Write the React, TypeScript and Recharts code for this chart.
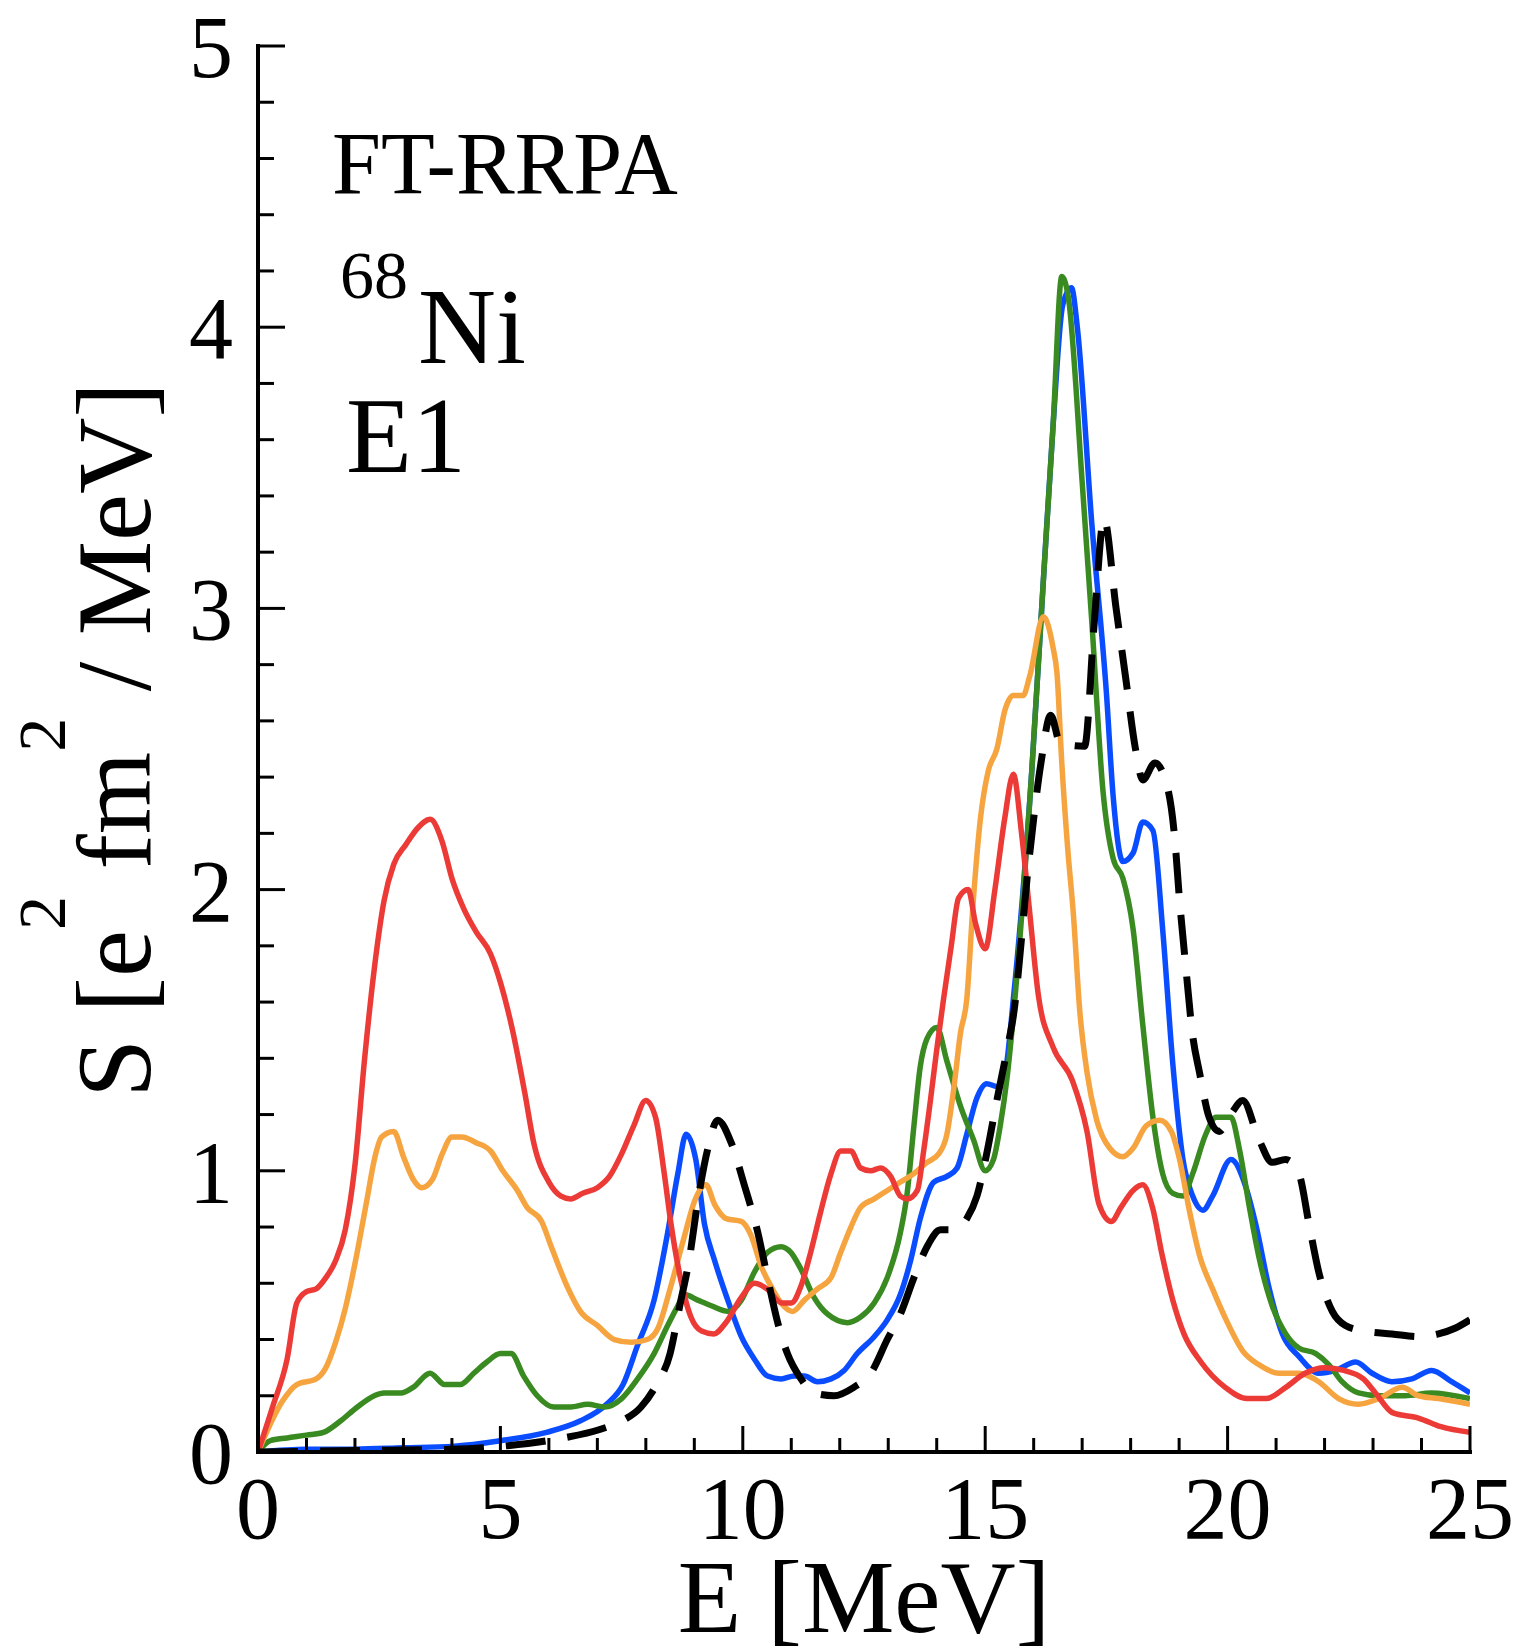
import React from 'react';
import { LineChart, Line, XAxis, YAxis } from 'recharts';

const W = 1516;
const H = 1652;
const FONT = '"Liberation Serif", "Times New Roman", serif';

// ---- data (E in MeV, S in e^2 fm^2 / MeV) ----
const redE = [0, 0.3, 0.6, 0.8, 1.0, 1.2, 1.4, 1.6, 1.8, 2.0, 2.2, 2.4, 2.6, 2.8, 3.05, 3.3, 3.55, 3.8, 4.0, 4.25, 4.5, 4.8, 5.0, 5.25, 5.5, 5.7, 6.0, 6.25, 6.45, 6.7, 7.0, 7.25, 7.5, 7.75, 8.0, 8.2, 8.38, 8.52, 8.7, 8.93, 9.15, 9.4, 9.65, 9.97, 10.24, 10.5, 10.8, 11.0, 11.2, 11.4, 11.6, 11.82, 12.02, 12.23, 12.43, 12.64, 12.84, 13.05, 13.25, 13.4, 13.6, 13.73, 13.87, 14.0, 14.14, 14.3, 14.45, 14.65, 14.8, 15.0, 15.2, 15.4, 15.58, 15.75, 15.9, 16.1, 16.4, 16.8, 17.1, 17.35, 17.6, 17.8, 18.05, 18.25, 18.45, 18.65, 18.87, 19.1, 19.45, 19.95, 20.4, 20.8, 21.2, 21.6, 22.0, 22.4, 22.8, 23.05, 23.4, 23.95, 24.4, 25];
const redS = [0, 0.16, 0.33, 0.53, 0.57, 0.58, 0.62, 0.68, 0.79, 1.02, 1.4, 1.72, 1.96, 2.09, 2.16, 2.22, 2.25, 2.17, 2.04, 1.93, 1.85, 1.77, 1.67, 1.5, 1.28, 1.09, 0.96, 0.91, 0.9, 0.92, 0.94, 0.98, 1.06, 1.16, 1.25, 1.19, 0.99, 0.81, 0.63, 0.48, 0.43, 0.42, 0.46, 0.55, 0.6, 0.58, 0.53, 0.53, 0.59, 0.71, 0.85, 0.99, 1.07, 1.07, 1.01, 1.0, 1.01, 0.98, 0.91, 0.9, 0.93, 1.07, 1.25, 1.43, 1.61, 1.8, 1.97, 2.0, 1.88, 1.79, 2.0, 2.25, 2.41, 2.2, 1.95, 1.62, 1.44, 1.32, 1.14, 0.88, 0.82, 0.87, 0.93, 0.95, 0.87, 0.7, 0.54, 0.42, 0.32, 0.23, 0.19, 0.19, 0.23, 0.28, 0.3, 0.29, 0.26, 0.21, 0.14, 0.12, 0.09, 0.07];

const orangeE = [0, 0.5, 0.8, 1.2, 1.4, 1.6, 1.8, 2.0, 2.25, 2.4, 2.55, 2.8, 3.0, 3.2, 3.38, 3.6, 3.8, 4.0, 4.2, 4.5, 4.8, 5.05, 5.35, 5.55, 5.85, 6.05, 6.4, 6.65, 7.0, 7.35, 7.7, 8.03, 8.25, 8.5, 8.8, 9.0, 9.24, 9.42, 9.66, 9.97, 10.17, 10.38, 10.58, 10.79, 11.03, 11.27, 11.54, 11.82, 12.02, 12.23, 12.43, 12.71, 12.98, 13.25, 13.53, 13.8, 14.04, 14.21, 14.35, 14.49, 14.62, 14.75, 14.9, 15.06, 15.24, 15.41, 15.58, 15.78, 15.92, 16.2, 16.4, 16.48, 16.58, 16.7, 16.82, 16.95, 17.1, 17.3, 17.57, 17.84, 18.05, 18.32, 18.6, 18.84, 19.01, 19.21, 19.42, 19.69, 19.97, 20.31, 20.65, 21.06, 21.47, 21.88, 22.29, 22.7, 23.12, 23.6, 23.94, 24.35, 25];
const orangeS = [0, 0.18, 0.24, 0.26, 0.3, 0.39, 0.51, 0.67, 0.9, 1.04, 1.12, 1.14, 1.05, 0.97, 0.94, 0.97, 1.06, 1.12, 1.12, 1.1, 1.07, 1.0, 0.93, 0.87, 0.82, 0.73, 0.58, 0.5, 0.45, 0.4, 0.39, 0.4, 0.44, 0.58, 0.77, 0.89, 0.95, 0.88, 0.83, 0.82, 0.77, 0.66, 0.59, 0.53, 0.5, 0.54, 0.58, 0.62, 0.71, 0.8, 0.87, 0.9, 0.93, 0.96, 0.99, 1.03, 1.06, 1.13, 1.29, 1.49, 1.61, 1.95, 2.25, 2.42, 2.5, 2.64, 2.69, 2.69, 2.76, 2.97, 2.86, 2.77, 2.45, 2.15, 1.91, 1.57, 1.35, 1.18, 1.08, 1.05, 1.08, 1.16, 1.18, 1.14, 1.04, 0.86, 0.7, 0.58, 0.47, 0.36, 0.31, 0.28, 0.28, 0.25, 0.19, 0.17, 0.19, 0.23, 0.2, 0.19, 0.17];

const greenE = [0, 0.25, 0.6, 1.0, 1.35, 1.7, 2.05, 2.4, 2.6, 2.95, 3.2, 3.55, 3.85, 4.17, 4.45, 4.72, 5.0, 5.22, 5.48, 5.76, 6.1, 6.45, 6.8, 7.15, 7.5, 7.83, 8.17, 8.45, 8.66, 8.8, 9.07, 9.35, 9.7, 9.97, 10.24, 10.51, 10.79, 10.99, 11.2, 11.47, 11.75, 12.16, 12.43, 12.71, 12.98, 13.25, 13.39, 13.53, 13.66, 13.8, 14.0, 14.21, 14.49, 14.76, 15.0, 15.17, 15.31, 15.45, 15.58, 15.96, 16.2, 16.4, 16.58, 16.72, 17.0, 17.2, 17.43, 17.64, 17.84, 18.05, 18.25, 18.46, 18.66, 18.87, 19.08, 19.28, 19.55, 19.76, 20.07, 20.24, 20.45, 20.65, 20.92, 21.2, 21.47, 21.82, 22.09, 22.36, 22.7, 23.12, 23.66, 24.2, 25];
const greenS = [0, 0.04, 0.05, 0.06, 0.07, 0.11, 0.16, 0.2, 0.21, 0.21, 0.23, 0.28, 0.24, 0.24, 0.28, 0.32, 0.35, 0.35, 0.27, 0.2, 0.16, 0.16, 0.17, 0.16, 0.19, 0.26, 0.35, 0.45, 0.52, 0.56, 0.54, 0.52, 0.5, 0.54, 0.64, 0.71, 0.73, 0.71, 0.65, 0.55, 0.49, 0.46, 0.48, 0.53, 0.62, 0.78, 0.92, 1.16, 1.37, 1.47, 1.51, 1.39, 1.23, 1.11, 1.0, 1.04, 1.16, 1.33, 1.55, 2.42, 3.1, 3.65, 4.18, 4.1, 3.45, 2.95, 2.35, 2.11, 2.04, 1.86, 1.52, 1.19, 0.99, 0.92, 0.91, 0.99, 1.13, 1.19, 1.19, 1.08, 0.87, 0.69, 0.52, 0.42, 0.37, 0.35, 0.31, 0.25, 0.21, 0.2, 0.2, 0.21, 0.19];

const blueE = [0, 1, 2, 3, 4, 5, 5.95, 6.64, 7.19, 7.53, 7.83, 8.17, 8.45, 8.66, 8.83, 9.03, 9.21, 9.42, 9.69, 9.97, 10.24, 10.51, 10.79, 11.06, 11.27, 11.54, 11.82, 12.09, 12.36, 12.71, 12.98, 13.25, 13.46, 13.66, 13.94, 14.21, 14.42, 14.62, 14.83, 15.03, 15.24, 15.41, 15.58, 15.96, 16.2, 16.4, 16.6, 16.78, 16.9, 17.2, 17.5, 17.64, 17.84, 18.05, 18.25, 18.46, 18.66, 18.87, 19.08, 19.28, 19.49, 19.69, 20.07, 20.38, 20.58, 20.86, 21.13, 21.47, 21.88, 22.23, 22.64, 22.98, 23.39, 23.8, 24.21, 24.62, 25];
const blueS = [0, 0.01, 0.01, 0.015, 0.02, 0.04, 0.07, 0.11, 0.17, 0.24, 0.38, 0.54, 0.78, 0.99, 1.13, 1.04, 0.81, 0.68, 0.54, 0.41, 0.33, 0.27, 0.26, 0.27, 0.27, 0.25, 0.26, 0.29, 0.35, 0.41, 0.47, 0.56, 0.68, 0.83, 0.96, 0.98, 1.01, 1.13, 1.26, 1.31, 1.3, 1.35, 1.61, 2.42, 3.1, 3.65, 4.08, 4.14, 4.0, 3.3, 2.7, 2.33, 2.1, 2.13, 2.24, 2.21, 1.86, 1.38, 1.04, 0.91, 0.86, 0.91, 1.04, 0.94, 0.81, 0.58, 0.42, 0.34, 0.28, 0.29, 0.32, 0.28, 0.25, 0.26, 0.29, 0.25, 0.21];

const blackE = [0, 2, 4, 5, 6.3, 7.05, 7.5, 7.9, 8.22, 8.5, 8.7, 8.9, 9.07, 9.28, 9.48, 9.76, 10.03, 10.31, 10.51, 10.72, 10.92, 11.2, 11.47, 11.88, 12.29, 12.64, 12.98, 13.25, 13.53, 13.8, 14.08, 14.35, 14.62, 14.83, 15.03, 15.24, 15.45, 15.58, 15.9, 16.15, 16.35, 16.55, 17.05, 17.25, 17.45, 17.7, 17.9, 18.1, 18.25, 18.5, 18.75, 18.9, 19.01, 19.14, 19.28, 19.42, 19.62, 19.83, 20.1, 20.31, 20.65, 20.92, 21.2, 21.47, 21.68, 21.88, 22.16, 22.43, 22.84, 23.39, 23.94, 24.35, 24.69, 25];
const blackS = [0, 0.005, 0.01, 0.02, 0.05, 0.08, 0.11, 0.16, 0.24, 0.35, 0.52, 0.69, 0.89, 1.08, 1.18, 1.1, 0.95, 0.78, 0.62, 0.46, 0.35, 0.26, 0.21, 0.2, 0.23, 0.28, 0.4, 0.49, 0.62, 0.73, 0.79, 0.79, 0.83, 0.91, 1.06, 1.25, 1.43, 1.55, 2.1, 2.45, 2.62, 2.52, 2.51, 2.95, 3.32, 3.0, 2.75, 2.5, 2.39, 2.45, 2.37, 2.2, 1.96, 1.72, 1.48, 1.35, 1.19, 1.14, 1.21, 1.25, 1.11, 1.03, 1.04, 0.99, 0.81, 0.64, 0.5, 0.45, 0.43, 0.42, 0.41, 0.42, 0.44, 0.47];

// ---- axes ----
const xTicks = Array.from({ length: 26 }, (_, i) => i);
const yTicks = Array.from({ length: 26 }, (_, i) => i / 5);
const xMajor = [0, 5, 10, 15, 20, 25];
const yMajor = [0, 1, 2, 3, 4, 5];

const mk = (E: number[], S: number[]) => E.map((e, i) => ({ E: e, S: S[i] }));

const isMajorX = (v: number) => xMajor.includes(v);
const isMajorY = (v: number) => yMajor.some((m) => Math.abs(m - v) < 1e-6);

function BottomTick(props: any) {
  const { x, y, payload } = props;
  const v = payload.value;
  const major = isMajorX(v);
  return (
    <g>
      <line x1={x} x2={x} y1={y} y2={y - (major ? 26 : 14)} stroke="#000" strokeWidth={3} />
      {major && (
        <text x={x} y={y + 86} textAnchor="middle" fontSize={88} fontFamily={FONT} fill="#000">
          {v}
        </text>
      )}
    </g>
  );
}
function TopTick(props: any) {
  const { x, y, payload } = props;
  const major = isMajorX(payload.value);
  return <line x1={x} x2={x} y1={y} y2={y + (major ? 26 : 14)} stroke="#000" strokeWidth={3} />;
}
function LeftTick(props: any) {
  const { x, y, payload } = props;
  const v = payload.value;
  const major = isMajorY(v);
  return (
    <g>
      <line x1={x} x2={x + (major ? 27 : 16)} y1={y} y2={y} stroke="#000" strokeWidth={3} />
      {major && (
        <text x={x - 25} y={y + 31} textAnchor="end" fontSize={88} fontFamily={FONT} fill="#000">
          {Math.round(v)}
        </text>
      )}
    </g>
  );
}
function RightTick(props: any) {
  const { x, y, payload } = props;
  const major = isMajorY(payload.value);
  return <line x1={x} x2={x - (major ? 27 : 16)} y1={y} y2={y} stroke="#000" strokeWidth={3} />;
}

const axisLine = { stroke: '#000', strokeWidth: 4, strokeLinecap: 'square' as const };

export default function App() {
  return (
    <div style={{ position: 'absolute', left: 0, top: 0, width: W, height: H, background: '#fff' }}>
      <LineChart width={W} height={H} margin={{ top: 46, right: 46, bottom: 0, left: 0 }}>
        <XAxis
          xAxisId="b"
          type="number"
          dataKey="E"
          domain={[0, 25]}
          ticks={xTicks}
          interval={0}
          height={200}
          tickSize={0}
          tickMargin={0}
          axisLine={axisLine}
          tickLine={false}
          tick={<BottomTick />}
          allowDataOverflow
        />
        <XAxis
          xAxisId="t"
          orientation="top"
          type="number"
          dataKey="E"
          domain={[0, 25]}
          ticks={xTicks}
          interval={0}
          height={0}
          tickSize={0}
          tickMargin={0}
          axisLine={axisLine}
          tickLine={false}
          tick={<TopTick />}
        />
        <YAxis
          yAxisId="l"
          type="number"
          domain={[0, 5]}
          ticks={yTicks}
          interval={0}
          width={258}
          tickSize={0}
          tickMargin={0}
          axisLine={axisLine}
          tickLine={false}
          tick={<LeftTick />}
          allowDataOverflow
        />
        <YAxis
          yAxisId="r"
          orientation="right"
          type="number"
          domain={[0, 5]}
          ticks={yTicks}
          interval={0}
          width={0}
          tickSize={0}
          tickMargin={0}
          axisLine={axisLine}
          tickLine={false}
          tick={<RightTick />}
        />
        <Line xAxisId="b" yAxisId="l" data={mk(blueE, blueS)} dataKey="S" type="monotone" stroke="#0a4cff" strokeWidth={5.5} dot={false} isAnimationActive={false} />
        <Line xAxisId="b" yAxisId="l" data={mk(greenE, greenS)} dataKey="S" type="monotone" stroke="#3a8a22" strokeWidth={5.5} dot={false} isAnimationActive={false} />
        <Line xAxisId="b" yAxisId="l" data={mk(orangeE, orangeS)} dataKey="S" type="monotone" stroke="#f6a43f" strokeWidth={5.5} dot={false} isAnimationActive={false} />
        <Line xAxisId="b" yAxisId="l" data={mk(redE, redS)} dataKey="S" type="monotone" stroke="#ec3b36" strokeWidth={5.5} dot={false} isAnimationActive={false} />
        <Line xAxisId="b" yAxisId="l" data={mk(blackE, blackS)} dataKey="S" type="monotone" stroke="#000" strokeWidth={7} strokeDasharray="40 22" dot={false} isAnimationActive={false} />
      </LineChart>
      <svg width={W} height={H} style={{ position: 'absolute', left: 0, top: 0, pointerEvents: 'none' }}>
        <g fontFamily={FONT} fill="#000">
          <text x={332} y={193} fontSize={88}>FT-RRPA</text>
          <text x={340} y={298} fontSize={68}>68</text>
          <text x={418} y={363} fontSize={108}>Ni</text>
          <text x={346} y={472} fontSize={108}>E1</text>
          <text x={864} y={1632} fontSize={104} textAnchor="middle">E [MeV]</text>
          <text transform="rotate(-90)" x={-740} y={150} fontSize={106} textAnchor="middle">
            S [e<tspan fontSize={68} dy={-85}>2</tspan>
            <tspan dy={85}> fm</tspan>
            <tspan fontSize={68} dy={-85}>2</tspan>
            <tspan dy={85}> / MeV]</tspan>
          </text>
        </g>
      </svg>
    </div>
  );
}
